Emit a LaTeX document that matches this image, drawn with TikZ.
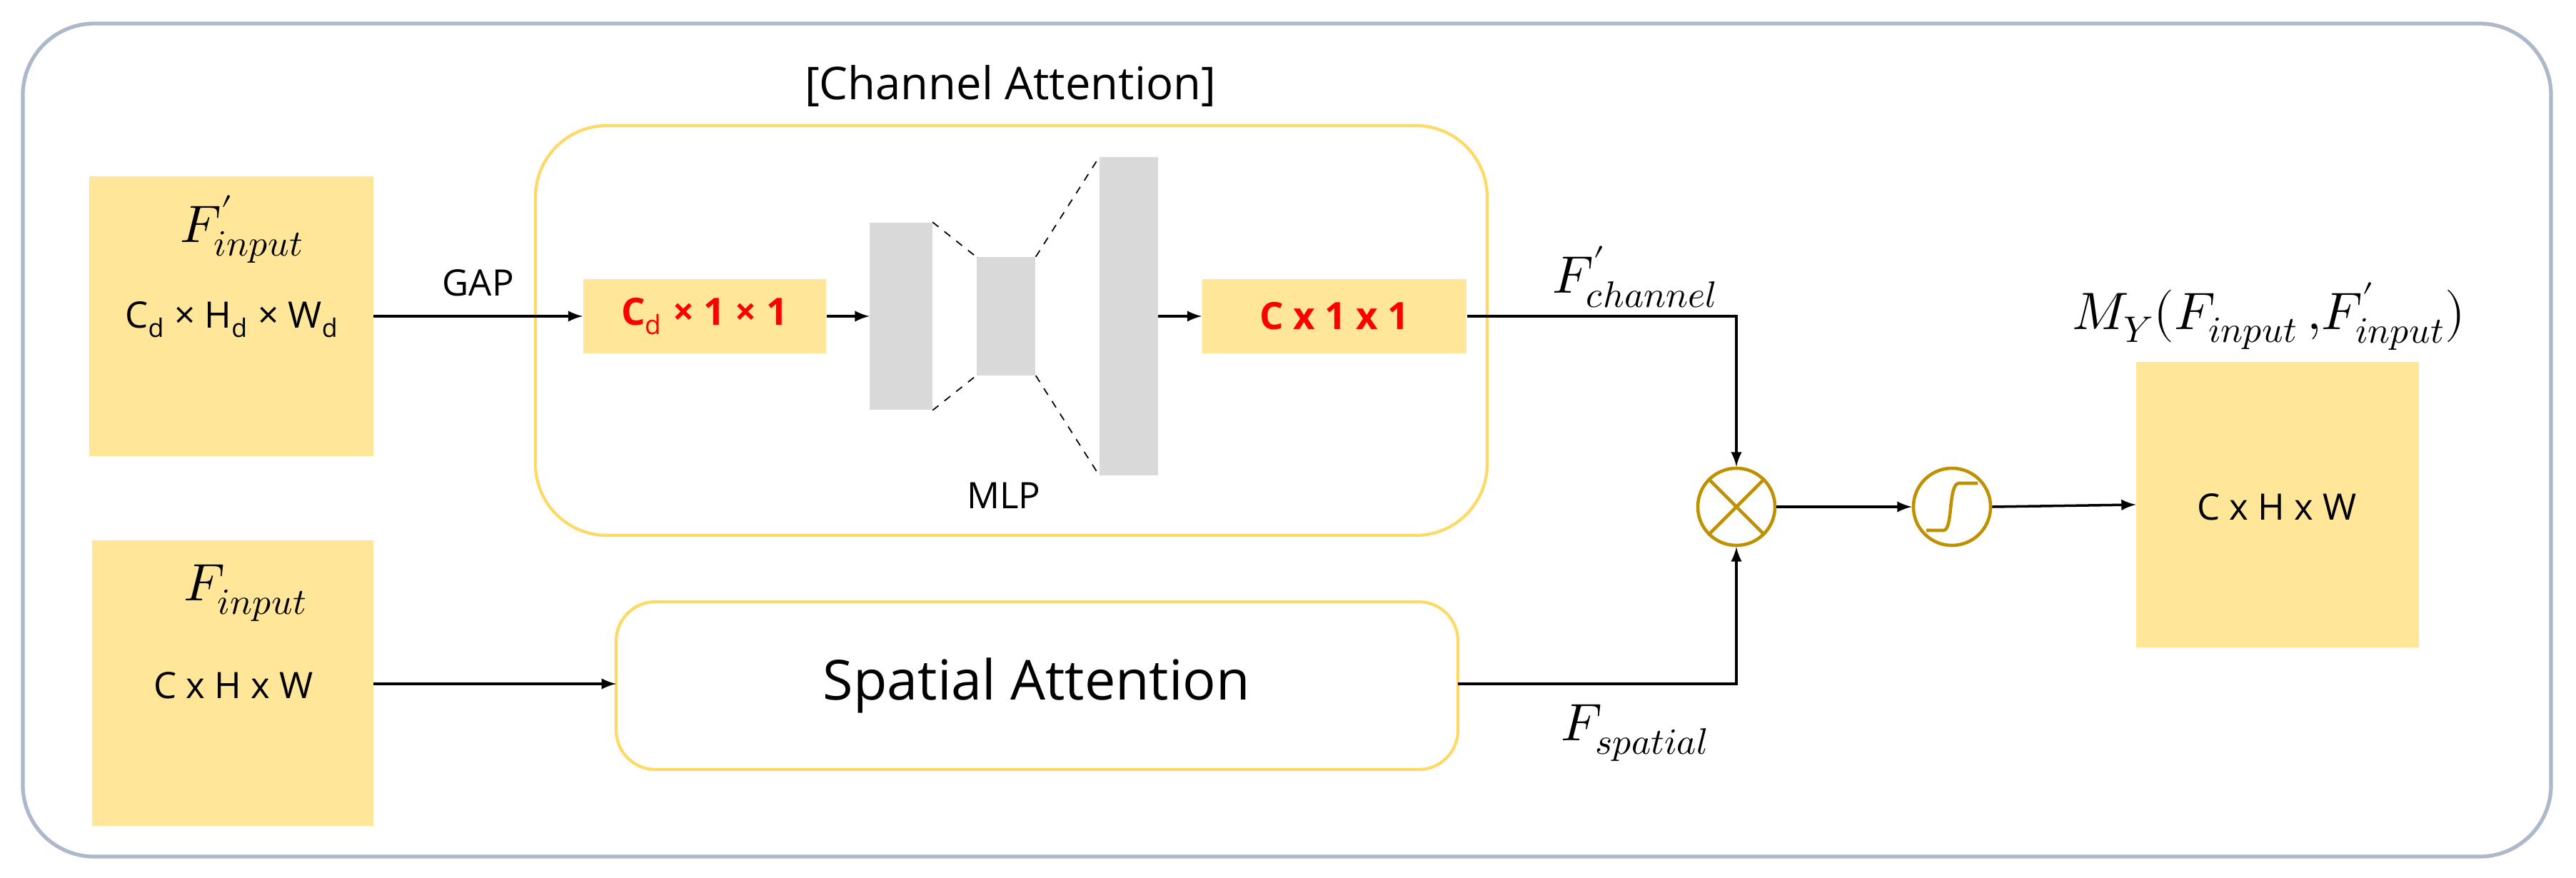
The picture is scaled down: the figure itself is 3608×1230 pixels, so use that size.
\documentclass[tikz,border=0pt]{standalone}
\usepackage{fontspec}
\setmainfont{Open Sans}
\usepackage{unicode-math}
\setmathfont{Latin Modern Math}
\definecolor{fy}{HTML}{FFE699}
\definecolor{by}{HTML}{FFD966}
\definecolor{fr}{HTML}{ADB9CA}
\definecolor{gd}{HTML}{BF9000}
\definecolor{gb}{HTML}{D9D9D9}
\begin{document}
\begin{tikzpicture}[x=0.01cm,y=-0.01cm,
  feat/.style={fill=fy,draw=none},
  blk/.style={draw=by,line width=1.2pt,rounded corners=1cm},
  bar/.style={fill=gb,draw=none},
  arr/.style={-latex,line width=1pt},
  op/.style={circle,draw=gd,line width=1.3pt,minimum size=1.08cm,inner sep=0pt},
  txt/.style={font=\fontsize{14.5}{17}\selectfont},
  mth/.style={font=\fontsize{21}{24}\selectfont}]
\useasboundingbox (0,0) rectangle (3608,1230);
\draw[fr,line width=1.5pt,rounded corners=1cm] (32,33) rectangle (3573,1200);
% channel attention block
\draw[blk] (750,176) rectangle (2083,750);
\node[font=\fontsize{18}{21}\selectfont] (title) at (1415,120) {[Channel Attention]};
\draw[blk,rounded corners=0.55cm] (863,843) rectangle (2042,1078);
\node[font=\fontsize{22}{26}\selectfont] (sa) at (1452,960) {Spatial Attention};
\coordinate (saL) at (863,958); \coordinate (saR) at (2042,958);
% feature boxes
\node[feat,minimum width=3.97cm,minimum height=3.92cm] (fin1) at (324,443) {};
\node[mth] at (339,321) {$F'_{input}$};
\node[txt] at (325,448) {C$_\mathrm{d}$ × H$_\mathrm{d}$ × W$_\mathrm{d}$};
\node[feat,minimum width=3.93cm,minimum height=4.0cm] (fin2) at (326,957) {};
\node[mth] at (344,831) {$F_{input}$};
\node[txt] at (327,960) {C x H x W};
\node[feat,minimum width=3.4cm,minimum height=1.03cm,text=red,font=\bfseries\fontsize{15}{17}\selectfont] (c1) at (987,443) {C$_\mathrm{d}$ × 1 × 1};
\node[feat,minimum width=3.7cm,minimum height=1.03cm,text=red,font=\bfseries\fontsize{15}{17}\selectfont] (c2) at (1869,443) {C x 1 x 1};
% MLP
\node[bar,minimum width=0.87cm,minimum height=2.62cm,inner sep=0pt] (b1) at (1262,443) {};
\node[bar,minimum width=0.82cm,minimum height=1.65cm,inner sep=0pt] (b2) at (1409,443) {};
\node[bar,minimum width=0.81cm,minimum height=4.45cm,inner sep=0pt] (b3) at (1581,443) {};
\draw[dashed,line width=0.5pt] (b1.north east) -- (b2.north west) (b1.south east) -- (b2.south west)
  (b2.north east) -- (b3.north west) (b2.south east) -- (b3.south west);
\node[txt] (mlp) at (1406,694) {MLP};
\draw[arr] (fin1.east |- c1.west) -- node[txt,above,yshift=4pt] {GAP} (c1.west);
\draw[arr] (c1.east) -- (b1.west);
\draw[arr] (b3.east) -- (c2.west);
\draw[arr] (fin2.east |- saL) -- (saL);
% ops
\node[op] (mul) at (2432,710) {};
\draw[gd,line width=1.3pt] (mul.north east) -- (mul.south west) (mul.north west) -- (mul.south east);
\node[op] (sig) at (2734,710) {};
\draw[gd,line width=1.3pt] ([xshift=-0.36cm,yshift=-0.33cm]sig.center) -- ([xshift=-0.12cm,yshift=-0.33cm]sig.center)
  .. controls ([xshift=0.02cm,yshift=-0.33cm]sig.center) and ([xshift=-0.06cm,yshift=0.33cm]sig.center) .. ([xshift=0.1cm,yshift=0.33cm]sig.center)
  -- ([xshift=0.36cm,yshift=0.33cm]sig.center);
\node[feat,minimum width=3.95cm,minimum height=4.0cm] (out) at (3190,707) {};
\node[txt] at (3189,710) {C x H x W};
\node[mth] at (3178,443) {$M_Y(F_{input}\,,\!F'_{input})$};
\draw[arr] (c2.east) -- (mul.north |- c2.east) -- (mul.north);
\draw[arr] (saR) -- (mul.south |- saR) -- (mul.south);
\draw[arr] (mul.east) -- (sig.west);
\draw[arr] (sig.east) -- (out.west);
\node[mth] at (2290,388) {$F'_{channel}$};
\node[mth] at (2290,1027) {$F_{spatial}$};
\end{tikzpicture}
\end{document}
